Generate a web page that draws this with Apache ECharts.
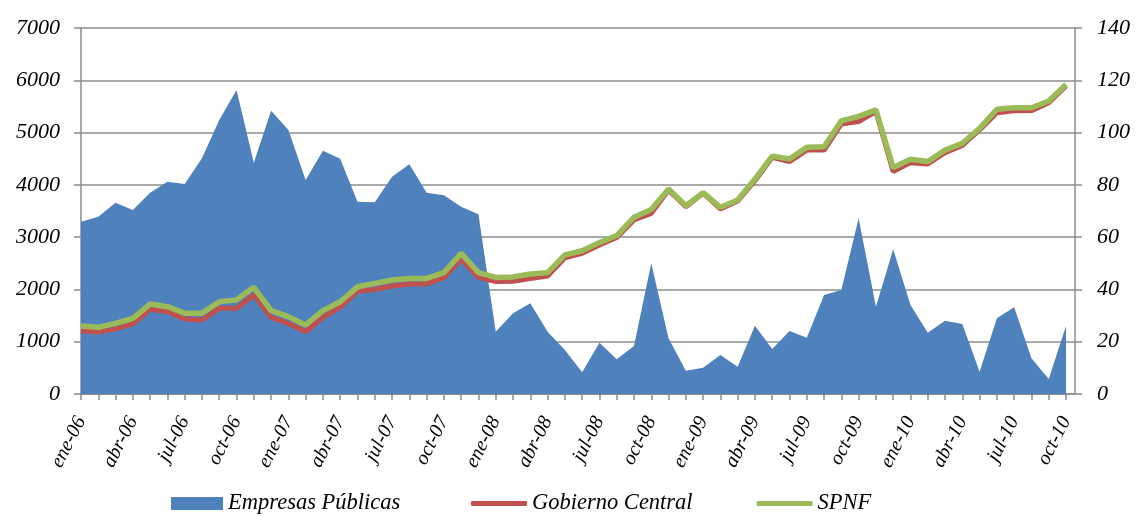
<!DOCTYPE html>
<html lang="es">

<head>
    <meta charset="UTF-8">
    <title>SPNF</title>
    <script src="https://cdn.jsdelivr.net/npm/echarts@6/dist/echarts.min.js"></script>
    <style>
        html, body { margin: 0; padding: 0; background: #fff; }
        #chart { width: 1137px; height: 516px; }
    </style>
</head>

<body>
    <div id="chart"></div>
    <script>
        // meses ene-06 .. oct-10
        var categorias = [
            'ene-06', 'feb-06', 'mar-06', 'abr-06', 'may-06', 'jun-06', 'jul-06', 'ago-06', 'sep-06', 'oct-06', 'nov-06', 'dic-06',
            'ene-07', 'feb-07', 'mar-07', 'abr-07', 'may-07', 'jun-07', 'jul-07', 'ago-07', 'sep-07', 'oct-07', 'nov-07', 'dic-07',
            'ene-08', 'feb-08', 'mar-08', 'abr-08', 'may-08', 'jun-08', 'jul-08', 'ago-08', 'sep-08', 'oct-08', 'nov-08', 'dic-08',
            'ene-09', 'feb-09', 'mar-09', 'abr-09', 'may-09', 'jun-09', 'jul-09', 'ago-09', 'sep-09', 'oct-09', 'nov-09', 'dic-09',
            'ene-10', 'feb-10', 'mar-10', 'abr-10', 'may-10', 'jun-10', 'jul-10', 'ago-10', 'sep-10', 'oct-10'
        ];

        // eje izquierdo
        var empresasPublicas = [
            3296, 3392, 3659, 3519, 3850, 4061, 4016, 4507, 5240, 5814, 4424, 5419,
            5049, 4093, 4654, 4501, 3679, 3666, 4156, 4393, 3850, 3800, 3583, 3436,
            1192, 1543, 1734, 1192, 842, 414, 982, 663, 918, 2499, 1065, 446,
            504, 746, 523, 1307, 861, 1205, 1077, 1893, 1989, 3360, 1670, 2767,
            1702, 1173, 1403, 1339, 427, 1447, 1658, 682, 287, 1300
        ];

        // eje derecho
        var gobiernoCentral = [
            24.2, 23.7, 24.9, 26.8, 32.4, 31.5, 28.7, 28.3, 32.8, 32.8, 37.9, 29.3,
            27.0, 23.8, 29.3, 33.2, 39.3, 40.0, 41.3, 42.1, 42.1, 44.6, 51.5, 44.6,
            43.0, 43.1, 44.2, 45.1, 52.1, 53.8, 57.0, 59.9, 66.6, 69.1, 78.0, 71.6,
            76.8, 70.8, 73.8, 81.6, 90.5, 88.9, 93.3, 93.3, 103.3, 104.2, 108.0, 85.1,
            88.5, 88.0, 92.3, 95.1, 101.0, 107.6, 108.3, 108.4, 111.4, 117.8
        ];
        var spnf = [
            26.0, 25.5, 27.0, 28.9, 34.4, 33.4, 30.9, 30.9, 35.3, 36.0, 40.8, 31.9,
            29.6, 26.4, 31.9, 35.3, 41.0, 42.3, 43.6, 44.2, 44.2, 46.4, 53.8, 46.4,
            44.6, 44.8, 45.9, 46.4, 53.2, 54.8, 57.9, 60.6, 67.6, 70.6, 78.4, 72.0,
            77.0, 71.4, 74.2, 82.2, 91.0, 89.9, 94.4, 94.6, 104.5, 106.2, 108.7, 86.6,
            89.8, 88.9, 93.3, 95.9, 101.6, 108.9, 109.5, 109.5, 112.1, 118.4
        ];

        var fuente = 'Liberation Serif';
        var gris = '#8c8c8c';
        var textoY = { fontFamily: fuente, fontStyle: 'italic', fontSize: 22, color: '#000' };
        var textoLeyenda = { fontFamily: fuente, fontStyle: 'italic', fontSize: 22.5, color: '#000' };

        var chart = echarts.init(document.getElementById('chart'));
        chart.setOption({
            animation: false,
            backgroundColor: '#fff',
            grid: [
                { left: 81, right: 71, top: 28, bottom: 122 },
                // solo para las lineas de cuadricula hasta el eje derecho
                { left: 81, right: 62, top: 28, bottom: 122 }
            ],
            legend: [{
                left: 171,
                top: 492,
                padding: 0,
                itemWidth: 52,
                itemHeight: 13,
                itemTextGap: 6,
                icon: 'rect',
                textStyle: textoLeyenda,
                data: ['Empresas Públicas']
            }, {
                left: 471,
                top: 492,
                padding: 0,
                itemWidth: 56,
                itemHeight: 5,
                itemGap: 64,
                itemTextGap: 6,
                icon: 'roundRect',
                textStyle: textoLeyenda,
                data: ['Gobierno Central', 'SPNF']
            }],
            xAxis: [{
                type: 'category',
                gridIndex: 0,
                data: categorias,
                boundaryGap: false,
                axisLine: { lineStyle: { color: gris, width: 1.5 } },
                axisTick: { interval: 0, length: 6, lineStyle: { color: gris, width: 1.5 } },
                axisLabel: {
                    interval: 2,
                    rotate: 63,
                    margin: 24,
                    fontFamily: fuente,
                    fontStyle: 'italic',
                    fontSize: 20,
                    color: '#000'
                },
                splitLine: { show: false }
            }, {
                type: 'category',
                gridIndex: 1,
                data: categorias,
                boundaryGap: false,
                axisLine: { lineStyle: { color: gris, width: 1.5 } },
                axisTick: { show: false },
                axisLabel: { show: false },
                splitLine: { show: false }
            }],
            yAxis: [{
                type: 'value',
                gridIndex: 0,
                min: 0,
                max: 7000,
                interval: 1000,
                position: 'left',
                axisLine: { show: true, lineStyle: { color: gris, width: 1.5 } },
                axisTick: { show: true, length: 7, lineStyle: { color: gris, width: 1.5 } },
                axisLabel: Object.assign({
                    margin: 21,
                    formatter: function(v) { return String(v); }
                }, textoY),
                splitLine: { show: false }
            }, {
                type: 'value',
                gridIndex: 0,
                min: 0,
                max: 140,
                interval: 20,
                position: 'right',
                offset: 9,
                axisLine: { show: true, lineStyle: { color: gris, width: 1.5 } },
                axisTick: { show: true, length: 7, lineStyle: { color: gris, width: 1.5 } },
                axisLabel: Object.assign({ margin: 22 }, textoY),
                splitLine: { show: false }
            }, {
                type: 'value',
                gridIndex: 1,
                min: 0,
                max: 7000,
                interval: 1000,
                axisLine: { show: false },
                axisTick: { show: false },
                axisLabel: { show: false },
                splitLine: { lineStyle: { color: gris, width: 1.5 } }
            }],
            series: [{
                name: 'Empresas Públicas',
                type: 'line',
                xAxisIndex: 0,
                yAxisIndex: 0,
                data: empresasPublicas,
                symbol: 'none',
                lineStyle: { width: 0 },
                itemStyle: { color: '#4f81bd' },
                areaStyle: { color: '#4f81bd', opacity: 1 },
                z: 1
            }, {
                name: 'Gobierno Central',
                type: 'line',
                xAxisIndex: 0,
                yAxisIndex: 1,
                data: gobiernoCentral,
                symbol: 'none',
                lineStyle: { color: '#c0504d', width: 5 },
                itemStyle: { color: '#c0504d' },
                z: 2
            }, {
                name: 'SPNF',
                type: 'line',
                xAxisIndex: 0,
                yAxisIndex: 1,
                data: spnf,
                symbol: 'none',
                lineStyle: { color: '#9bbb59', width: 5.5 },
                itemStyle: { color: '#9bbb59' },
                z: 3
            }]
        });
    </script>
</body>

</html>
